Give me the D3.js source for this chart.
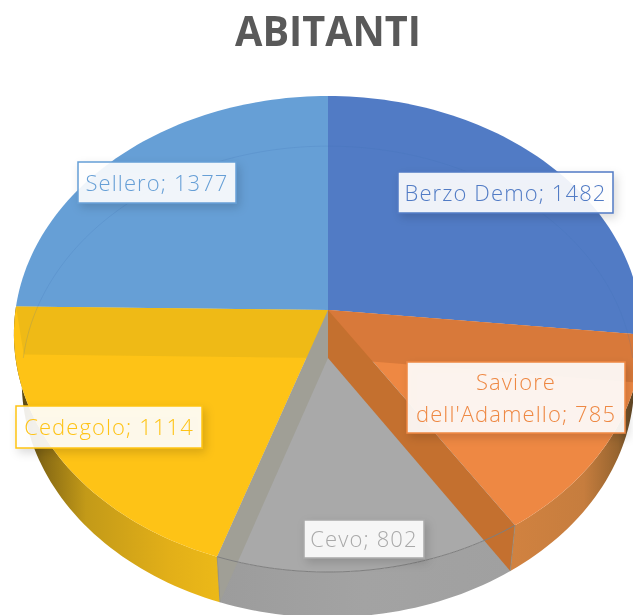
<!DOCTYPE html>
<html>
<head>
<meta charset="utf-8">
<script src="https://cdnjs.cloudflare.com/ajax/libs/d3/7.8.5/d3.min.js"></script>
<style>
  html, body { margin: 0; padding: 0; background: #fff; overflow: hidden; }
  svg { display: block; filter: blur(0.6px); }
  text { font-family: "Open Sans", "Noto Sans", sans-serif; }
</style>
</head>
<body>
<div id="chart"></div>
<script>
var chartTitle = "ABITANTI";
var comuni = ["Berzo Demo", "Saviore dell'Adamello", "Cevo", "Cedegolo", "Sellero"];
var abitanti = [1482, 785, 802, 1114, 1377];

var topColors = ["#517bc5", "#ee8843", "#a9a9a9", "#fec316", "#669fd6"];
var labelBoxes = [
    {x: 398, y: 172, w: 215, h: 41},
    {x: 407, y: 362, w: 218, h: 71},
    {x: 304, y: 520, w: 120, h: 38},
    {x: 16, y: 406, w: 186, h: 42},
    {x: 78, y: 162, w: 158, h: 41}
];

var width = 633, height = 615;
var cx = 328, cy = 310, rx = 312.5, ry = 235.6, k = 0.1008;
var depth = 48;

var svg = d3.select("#chart").append("svg")
    .attr("width", width)
    .attr("height", height);

var defs = svg.append("defs");

// tilted disc: slices keep their true angle, the front comes closer
function project(angle, level) {
    var X = Math.sin(angle), Y = -Math.cos(angle), w = 1 - k * Y;
    var sx = level ? 0.975 : 1, sy = level ? 0.99 : 1;
    return [cx + rx * sx * X / w, cy + depth * level + ry * sy * Y / w];
}

function arcPoints(a0, a1, level) {
    var n = Math.max(2, Math.ceil((a1 - a0) * 40));
    return d3.range(n + 1).map(function(i) {
        return project(a0 + (a1 - a0) * i / n, level);
    });
}

var line = d3.line();
var apexTop = [cx, cy], apexBottom = [cx, cy + depth];

var slices = d3.pie().sort(null)(abitanti);

function sideGradient(id, x1, x2, stops) {
    var g = defs.append("linearGradient").attr("id", id)
        .attr("gradientUnits", "userSpaceOnUse")
        .attr("x1", x1).attr("x2", x2).attr("y1", 0).attr("y2", 0);
    stops.forEach(function(s) {
        g.append("stop").attr("offset", s[0]).attr("stop-color", s[1]);
    });
}
sideGradient("side0", 510, 633, [[0, "#d18240"], [0.6, "#c67d3e"], [0.88, "#96642f"], [1, "#5e4524"]]);
sideGradient("side2", 218, 510, [[0, "#9c9c9c"], [0.5, "#a3a3a3"], [1, "#a0a0a0"]]);
sideGradient("side3", 14, 220, [[0, "#4a3c12"], [0.15, "#8a6c14"], [0.35, "#c39a18"], [0.75, "#e2af18"], [1, "#ecb918"]]);

var shadow = defs.append("filter").attr("id", "labelShadow")
    .attr("x", "-20%").attr("y", "-30%").attr("width", "140%").attr("height", "170%");
shadow.append("feDropShadow")
    .attr("dx", 3).attr("dy", 4).attr("stdDeviation", 5)
    .attr("flood-color", "#000").attr("flood-opacity", 0.16);

// outer side of the front slices
[[1, "side0"], [2, "side2"], [3, "side3"]].forEach(function(p) {
    var s = slices[p[0]];
    var pts = arcPoints(s.startAngle, s.endAngle, 0)
        .concat(arcPoints(s.startAngle, s.endAngle, 1).reverse());
    svg.append("path")
        .attr("d", line(pts) + "Z")
        .attr("fill", "url(#" + p[1] + ")");
});

// top faces
svg.selectAll(".face")
    .data(slices)
    .enter().append("path")
    .attr("class", "face")
    .attr("fill", function(d, i) { return topColors[i]; })
    .attr("d", function(d) {
        return line([apexTop].concat(arcPoints(d.startAngle, d.endAngle, 0))) + "Z";
    });

// cut walls seen through the translucent top
function wall(angle, color) {
    svg.append("path")
        .attr("d", line([apexTop, project(angle, 0), project(angle, 1), apexBottom]) + "Z")
        .attr("fill", color);
}
wall(slices[1].startAngle, "#d8793a");
wall(slices[3].endAngle, "#efba16");
wall(slices[2].startAngle, "#c4702f");
wall(slices[3].startAngle, "#a09f96");

// faint back of the lower rim
svg.append("path")
    .attr("d", line(arcPoints(-Math.PI / 2, Math.PI / 2, 1)))
    .attr("fill", "none")
    .attr("stroke", "#3f6fb0")
    .attr("stroke-opacity", 0.18)
    .attr("stroke-width", 1);

// front rim line
svg.append("path")
    .attr("d", line(arcPoints(slices[2].startAngle, slices[2].endAngle, 0)))
    .attr("fill", "none")
    .attr("stroke", "#7f7f7f")
    .attr("stroke-width", 1);

svg.selectAll(".edge")
    .data([slices[2].startAngle, slices[2].endAngle])
    .enter().append("path")
    .attr("class", "edge")
    .attr("d", function(a) { return line([project(a, 0), project(a, 1)]); })
    .attr("stroke", "#8a8a80")
    .attr("stroke-opacity", 0.7)
    .attr("fill", "none");

svg.append("text")
    .attr("x", 328)
    .attr("y", 46)
    .attr("text-anchor", "middle")
    .attr("textLength", 186)
    .attr("lengthAdjust", "spacingAndGlyphs")
    .style("font-size", "41px")
    .style("font-weight", 700)
    .attr("fill", "#595959")
    .text(chartTitle);

// data labels
comuni.forEach(function(name, i) {
    var b = labelBoxes[i];
    var g = svg.append("g");
    g.append("rect")
        .attr("x", b.x).attr("y", b.y)
        .attr("width", b.w).attr("height", b.h)
        .attr("fill", "#fff")
        .attr("fill-opacity", 0.9)
        .attr("stroke", topColors[i])
        .attr("stroke-width", 1.5)
        .attr("filter", "url(#labelShadow)");
    var rows;
    if (i == 1) {
        rows = ["Saviore", "dell'Adamello; " + abitanti[i]];
    } else {
        rows = [name + "; " + abitanti[i]];
    }
    var top = b.y + b.h / 2 - (rows.length - 1) * 16;
    rows.forEach(function(r, j) {
        g.append("text")
            .attr("x", b.x + b.w / 2)
            .attr("y", top + j * 32 + 8)
            .attr("text-anchor", "middle")
            .style("font-size", "22px")
            .style("font-weight", 300)
            .style("letter-spacing", "1.1px")
            .attr("fill", topColors[i])
            .text(r);
    });
});
</script>
</body>
</html>
